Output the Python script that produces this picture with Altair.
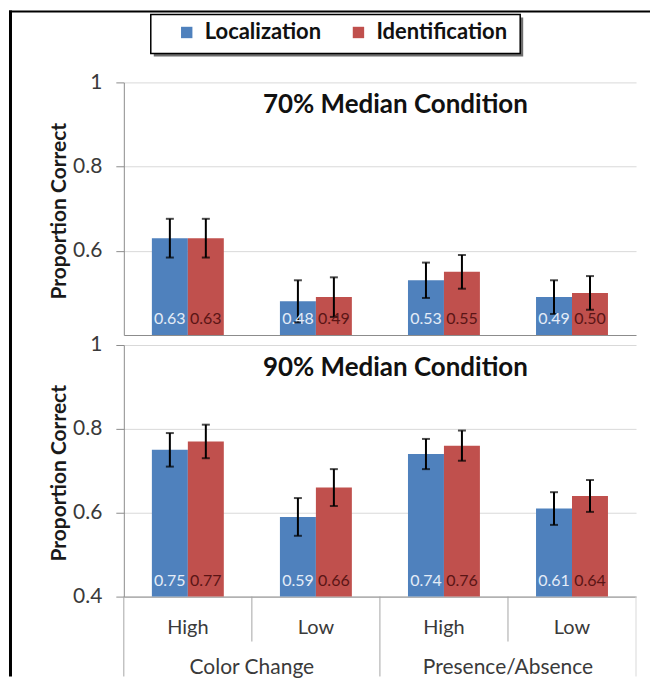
import altair as alt
import pandas as pd

FONT = "Lato"

# ---- data ----
groups = ["Color Change", "Color Change", "Presence/Absence", "Presence/Absence"]
levels = ["High", "Low", "High", "Low"]
series = ["Localization", "Identification"]
panel_titles = ["70% Median Condition", "90% Median Condition"]

loc_70 = [0.63, 0.48, 0.53, 0.49]
id_70 = [0.63, 0.49, 0.55, 0.50]
loc_70_err = [0.046, 0.050, 0.042, 0.040]
id_70_err = [0.046, 0.047, 0.040, 0.040]

loc_90 = [0.75, 0.59, 0.74, 0.61]
id_90 = [0.77, 0.66, 0.76, 0.64]
loc_90_err = [0.040, 0.045, 0.036, 0.039]
id_90_err = [0.040, 0.044, 0.036, 0.038]

y_ticks_top = [0.6, 0.8, 1.0]
y_ticks_bottom = [0.4, 0.6, 0.8, 1.0]
y_domain = [0.4, 1.0]
y_title = "Proportion  Correct"

colors = ["#4F81BD", "#C0504D"]

conds = [f"{g}|{l}" for g, l in zip(groups, levels)]


def make_df(loc, idv, loc_e, id_e):
    rows = []
    for i, c in enumerate(conds):
        for s, vals, errs in ((series[0], loc, loc_e), (series[1], idv, id_e)):
            v = vals[i]
            e = errs[i]
            rows.append(dict(cond=c, group=groups[i], level=levels[i], series=s,
                             value=v, lo=v - e, hi=v + e, label=f"{v:.2f}"))
    return pd.DataFrame(rows)


df70 = make_df(loc_70, id_70, loc_70_err, id_70_err)
df90 = make_df(loc_90, id_90, loc_90_err, id_90_err)
cond_df = pd.DataFrame({"cond": conds, "group": groups, "level": levels})
one = pd.DataFrame({"k": [0]})

W = 513
H_TOP = 253
H_BOT = 252

x_scale = alt.Scale(domain=conds, paddingInner=0, paddingOuter=0)
xo_scale = alt.Scale(domain=series, paddingInner=0, paddingOuter=0.78)
y_scale = alt.Scale(domain=y_domain, nice=False, zero=False)


def x_axis(bottom):
    if bottom:
        return alt.Axis(title=None, labels=True, ticks=False, grid=False,
                        labelExpr="split(datum.label, '|')[1]", labelAngle=0,
                        labelPadding=21, labelFontSize=20, labelColor="#3a3a3a",
                        domainColor="#8c8c8c")
    return alt.Axis(title=None, labels=False, ticks=False, grid=False,
                    domainColor="#8c8c8c")


def y_enc(field, ticks, h):
    ax = alt.Axis(values=ticks, format=".1~f", tickSize=8, labelPadding=14,
                  grid=True, gridColor="#d9d9d9", titleX=-54, titleY=h / 2 + 2)
    return alt.Y(field, scale=y_scale, axis=ax, title=y_title)


def panel(df, title, ticks, h, bottom):
    base = alt.Chart(df)
    x = alt.X("cond:N", sort=conds, scale=x_scale, axis=x_axis(bottom))
    xo = alt.XOffset("series:N", sort=series, scale=xo_scale)

    bars = base.mark_bar().encode(
        x=x, xOffset=xo,
        y=y_enc("value:Q", ticks, h), y2=alt.datum(0.4),
        color=alt.Color("series:N", sort=series,
                        scale=alt.Scale(domain=series, range=colors), title=None),
    )
    err = base.mark_rule(color="black", strokeWidth=2).encode(
        x=x, xOffset=xo, y=y_enc("lo:Q", ticks, h), y2="hi:Q")
    cap_lo = base.mark_tick(color="black", thickness=2, size=8).encode(
        x=x, xOffset=xo, y=y_enc("lo:Q", ticks, h))
    cap_hi = base.mark_tick(color="black", thickness=2, size=8).encode(
        x=x, xOffset=xo, y=y_enc("hi:Q", ticks, h))
    labels = base.mark_text(baseline="bottom", dy=-8, fontSize=16).encode(
        x=x, xOffset=xo, y=alt.datum(0.4), text="label:N",
        color=alt.condition(f"datum.series == '{series[0]}'",
                            alt.value("#e4ecf7"), alt.value("#5a1515")),
    )
    ttl = alt.Chart(pd.DataFrame({"t": [title]})).mark_text(
        fontSize=26, fontWeight="bold", color="#111111").encode(
        x=alt.value(272), y=alt.value(23), text="t:N")

    layers = [bars, err, cap_lo, cap_hi, labels, ttl]

    if not bottom:
        # outer frame (top and left) and legend box
        frame_left = alt.Chart(one).mark_rule(color="black", strokeWidth=3).encode(
            x=alt.value(-113.5), y=alt.value(-72), y2=alt.value(595))
        frame_top = alt.Chart(one).mark_rule(color="black", strokeWidth=2).encode(
            x=alt.value(-115), x2=alt.value(527), y=alt.value(-71))
        shadow = alt.Chart(one).mark_rect(fill="#3c3c3c", opacity=0.75).encode(
            x=alt.value(30), x2=alt.value(400), y=alt.value(-65), y2=alt.value(-26))
        box = alt.Chart(one).mark_rect(fill="white", stroke="black", strokeWidth=1.5).encode(
            x=alt.value(27), x2=alt.value(397), y=alt.value(-68), y2=alt.value(-29))
        layers = [frame_left, frame_top, shadow, box] + layers
    else:
        xb0 = alt.X("cond:N", sort=conds, scale=x_scale, axis=x_axis(True), bandPosition=0)
        xb1 = alt.X("cond:N", sort=conds, scale=x_scale, axis=x_axis(True), bandPosition=1)
        cbase = alt.Chart(cond_df)
        short_sep = cbase.transform_filter("datum.level == 'Low'").mark_rule(
            color="#a6a6a6", strokeWidth=1).encode(
            x=xb0, y=alt.value(h), y2=alt.value(h + 45))
        long_sep = cbase.transform_filter("datum.level == 'High'").mark_rule(
            color="#a6a6a6", strokeWidth=1).encode(
            x=xb0, y=alt.value(h), y2=alt.value(h + 80))
        end_sep = cbase.transform_filter(f"datum.cond == '{conds[-1]}'").mark_rule(
            color="#d9d9d9", strokeWidth=1).encode(
            x=xb1, y=alt.value(h), y2=alt.value(h + 80))
        grp = cbase.transform_filter("datum.level == 'High'").mark_text(
            fontSize=21, color="#3a3a3a", baseline="middle").encode(
            x=xb1, y=alt.value(h + 72), text="group:N")
        layers = layers + [short_sep, long_sep, end_sep, grp]

    return alt.layer(*layers).properties(width=W, height=h)


top = panel(df70, panel_titles[0], y_ticks_top, H_TOP, False)
bot = panel(df90, panel_titles[1], y_ticks_bottom, H_BOT, True)

chart = alt.vconcat(top, bot, spacing=10, bounds="flush").properties(
    padding=0
).configure(font=FONT).configure_view(stroke=None).configure_axis(
    labelFont=FONT, labelFontSize=21, labelColor="#3a3a3a",
    domainColor="#8c8c8c", tickColor="#8c8c8c",
    titleFont=FONT, titleFontSize=21, titleFontWeight="bold", titleColor="#1a1a1a",
).configure_legend(
    orient="none", legendX=52, legendY=-61, direction="horizontal", columns=2,
    symbolType="square", symbolSize=130, symbolStrokeWidth=0,
    labelFont=FONT, labelFontSize=22, labelFontWeight="bold", labelColor="#111111",
    columnPadding=26, labelOffset=7, padding=0,
)

chart.save("out.html", embed_options={"renderer": "svg", "actions": False})
